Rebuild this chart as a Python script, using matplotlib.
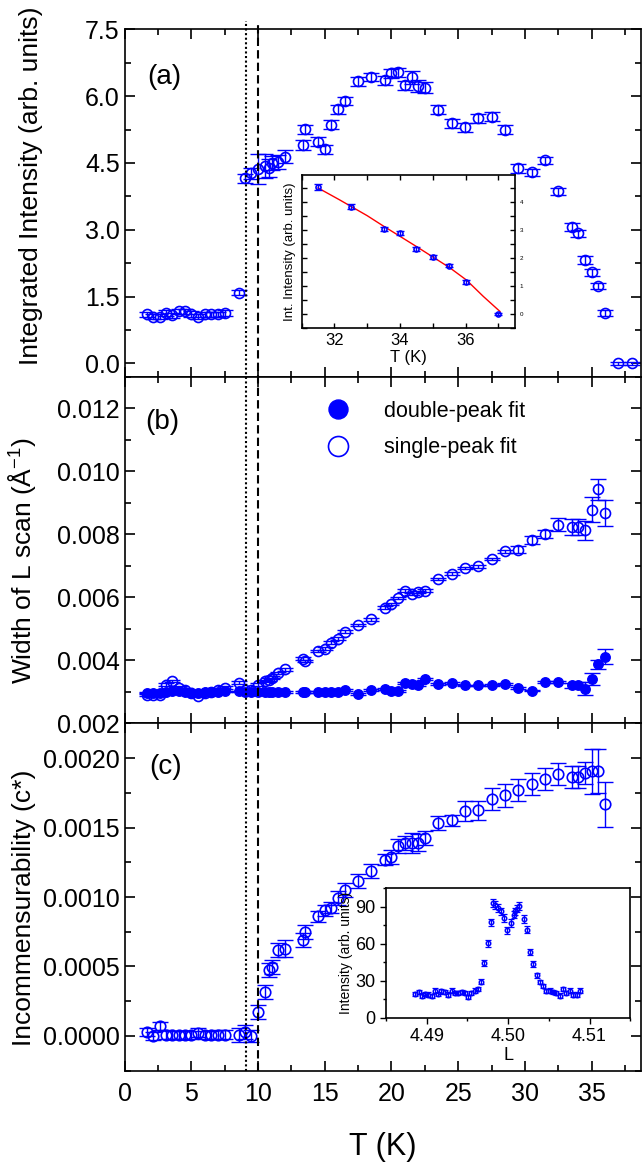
import numpy as np
import matplotlib.pyplot as plt
from matplotlib.ticker import MultipleLocator, FormatStrFormatter
from matplotlib.lines import Line2D
from matplotlib.transforms import blended_transform_factory

plt.rcParams['font.family'] = ['Liberation Sans', 'DejaVu Sans']
plt.rcParams['mathtext.default'] = 'regular'

BLUE = '#0000ff'

# ------------------------------ DATA ------------------------------
temp = [1.65, 2.15, 2.65, 3.1, 3.55, 4.05, 4.5, 5.0, 5.5, 6.0, 6.5, 7.0, 7.55,
        8.55, 9.0, 9.5, 10.0, 10.5, 10.8, 11.05, 11.5, 12.05,
        13.35, 13.5, 14.5, 15.0, 15.5, 16.0, 16.5,
        17.5, 18.5, 19.5, 20.0, 20.5, 21.0, 21.5, 22.0, 22.5,
        23.5, 24.5, 25.5, 26.5, 27.5, 28.5, 29.5, 30.5, 31.5, 32.5,
        33.5, 34.0, 34.5, 35.0, 35.5, 36.0]
temp_a = temp + [37.0, 38.0]

intensity = [1.10, 1.05, 1.05, 1.13, 1.08, 1.17, 1.17, 1.11, 1.05, 1.10, 1.10, 1.10, 1.13,
             1.59, 4.16, 4.27, 4.36, 4.43, 4.38, 4.49, 4.52, 4.64,
             4.90, 5.26, 4.98, 4.81, 5.36, 5.70, 5.88,
             6.33, 6.42, 6.36, 6.51, 6.53, 6.24, 6.42, 6.23, 6.19,
             5.69, 5.39, 5.30, 5.50, 5.54, 5.24, 4.38, 4.29, 4.56, 3.86,
             3.06, 2.92, 2.32, 2.04, 1.74, 1.13, 0.0, 0.0]
intensity_err = [0.06] * 13 + [0.05, 0.10, 0.12, 0.33, 0.27, 0.20, 0.16, 0.15, 0.15,
                               0.12, 0.10, 0.10, 0.10, 0.10, 0.10, 0.09,
                               0.10, 0.09, 0.10, 0.10, 0.09, 0.10, 0.14, 0.14, 0.12,
                               0.10, 0.10, 0.10, 0.10, 0.10, 0.10, 0.10, 0.08, 0.08, 0.08,
                               0.09, 0.08, 0.08, 0.07, 0.07, 0.06, 0.04, 0.04]

width_single = [0.00291, 0.00291, 0.00291, 0.00323, 0.00334, 0.00313, 0.00307, 0.00297, 0.00286,
                0.00297, 0.00299, 0.00305, 0.00313,
                0.00329, 0.00305, 0.00305, 0.00323, 0.00334, 0.00339, 0.00345, 0.00359, 0.00371,
                0.00405, 0.00398, 0.00430, 0.00437, 0.00456, 0.00469, 0.00491,
                0.00512, 0.00530, 0.00567, 0.00578, 0.00597, 0.00621, 0.00610, 0.00617, 0.00621,
                0.00658, 0.00675, 0.00693, 0.00698, 0.00722, 0.00746, 0.00751, 0.00783, 0.00800, 0.00830,
                0.00823, 0.00823, 0.00812, 0.00878, 0.00943, 0.00867]
width_single_err = [0.00004] * 44 + [0.00012, 0.00013, 0.00013, 0.00020,
                                     0.00025, 0.00025, 0.00030, 0.00040, 0.00033, 0.00042]

width_double = [0.00297, 0.00297, 0.00297, 0.00299, 0.00301, 0.00301, 0.00299, 0.00297, 0.00297,
                0.00299, 0.00299, 0.00299, 0.00301,
                0.00301, 0.00299, 0.00299, 0.00299, 0.00299, 0.00299, 0.00299, 0.00299, 0.00299,
                0.00299, 0.00299, 0.00299, 0.00299, 0.00299, 0.00299, 0.00305,
                0.00294, 0.00307, 0.00310, 0.00303, 0.00303, 0.00327, 0.00324, 0.00321, 0.00341,
                0.00326, 0.00329, 0.00320, 0.00320, 0.00321, 0.00326, 0.00313, 0.00304, 0.00332, 0.00332,
                0.00321, 0.00323, 0.00310, 0.00341, 0.00387, 0.00412]
width_double_err = [0.00003] * 48 + [0.00008, 0.00008, 0.00020, 0.00020, 0.00015, 0.00025]

incomm = [0.000029, 0.0, 0.000072, 0.00001, 0.000005, 0.000005, 0.000005, 0.000005, 0.000024,
          0.000005, 0.000005, 0.00001, 0.00001,
          0.000005, 0.000029, 0.0, 0.000173, 0.000317, 0.000472, 0.000496, 0.000616, 0.000628,
          0.000693, 0.000748, 0.000861, 0.000904, 0.000923, 0.000993, 0.001048,
          0.001115, 0.001187, 0.001269, 0.001288, 0.001364, 0.001388, 0.001388, 0.001391, 0.001427,
          0.001532, 0.001552, 0.001619, 0.001624, 0.001703, 0.001731, 0.001772, 0.001815, 0.001851,
          0.001887, 0.001863, 0.001863, 0.001892, 0.001904, 0.001906, 0.001667]
incomm_err = [0.00003] * 13 + [0.00005, 0.00005, 0.00004, 0.00005, 0.00005, 0.00005, 0.00005,
                               0.00005, 0.00006, 0.00005, 0.00005, 0.00004, 0.00004, 0.00004,
                               0.00005, 0.00005, 0.00005, 0.00005, 0.00004, 0.00005, 0.00005,
                               0.00005, 0.00007, 0.00006, 0.00005, 0.00005, 0.00004, 0.00007,
                               0.00007, 0.00008, 0.00008, 0.00008, 0.00008, 0.00008, 0.00008,
                               0.00008, 0.00008, 0.00008, 0.00016, 0.00016, 0.00016]

# inset (a): intensity near Tc with fit
inset_T = [31.5, 32.5, 33.5, 34.0, 34.5, 35.0, 35.5, 36.0, 37.0]
inset_I = [4.53, 3.82, 3.03, 2.89, 2.30, 2.01, 1.71, 1.13, 0.0]
inset_err = [0.10, 0.09, 0.08, 0.08, 0.07, 0.07, 0.06, 0.06, 0.04]
fit_T = [31.5, 32.15, 33.0, 33.48, 34.5, 35.52, 36.03, 36.54, 37.05]
fit_I = [4.49, 4.07, 3.50, 3.14, 2.40, 1.64, 1.20, 0.62, 0.08]

# inset (c): L scan
scan_L = [4.4886, 4.4890, 4.4894, 4.4898, 4.4902, 4.4906, 4.4910, 4.4914, 4.4918, 4.4922,
          4.4926, 4.4931, 4.4935, 4.4938, 4.4943, 4.4947, 4.4951, 4.4955, 4.4959, 4.4963,
          4.4967, 4.4971, 4.4975, 4.4979, 4.4982, 4.4984, 4.4988, 4.4991, 4.4995, 4.4999,
          4.5003, 4.5007, 4.5009, 4.5011, 4.5013, 4.5019, 4.5023, 4.5027, 4.5031, 4.5036,
          4.5039, 4.5043, 4.5047, 4.5051, 4.5055, 4.5059, 4.5064, 4.5067, 4.5071, 4.5076,
          4.5080, 4.5084, 4.5088]
scan_I = [19.4, 20.7, 18.0, 19.4, 18.8, 17.5, 22.1, 19.4, 21.3, 20.7,
          18.8, 22.1, 19.9, 19.9, 20.7, 20.2, 16.9, 20.2, 22.1, 23.5,
          29.2, 44.2, 60.5, 77.4, 93.3, 91.4, 89.2, 86.4, 81.0, 70.9,
          76.9, 83.7, 86.4, 88.4, 90.5, 80.2, 71.4, 53.2, 43.4, 34.4,
          28.9, 25.6, 21.5, 22.1, 20.7, 20.2, 18.0, 23.5, 20.2, 22.1,
          18.8, 18.8, 22.1]
scan_err = [1.8] * 20 + [2.2, 2.5, 2.8, 3.0, 3.2, 3.2, 3.2, 3.0, 3.0, 2.9,
                         3.0, 3.0, 3.0, 3.0, 3.2, 3.0, 2.9, 2.5, 2.3, 2.1] + [1.8] * 13

t_dotted = 9.08
t_dashed = 10.02

# ------------------------------ FIGURE ------------------------------
fig = plt.figure(figsize=(6.42, 11.67), dpi=100)
left, width = 0.1942, 0.8042
ax_a = fig.add_axes([left, 0.6772, width, 0.2977])
ax_b = fig.add_axes([left, 0.3802, width, 0.2970])
ax_c = fig.add_axes([left, 0.0825, width, 0.2977])

ms = 7.2
ekw = dict(fmt='none', ecolor=BLUE, elinewidth=1.0, capsize=6, capthick=1.0)


def style_main(ax):
    ax.set_xlim(0, 38.7)
    ax.xaxis.set_major_locator(MultipleLocator(5))
    ax.xaxis.set_minor_locator(MultipleLocator(2.5))
    ax.tick_params(which='both', direction='in', top=True, right=True, width=1.2,
                   labelsize=18)
    ax.tick_params(which='major', length=7)
    ax.tick_params(which='minor', length=4)
    for s in ax.spines.values():
        s.set_linewidth(1.2)


# (a)
ax_a.errorbar(temp_a, intensity, yerr=intensity_err, **ekw)
ax_a.plot(temp_a, intensity, 'o', ms=ms, mfc='none', mec=BLUE, mew=1.2)
style_main(ax_a)
ax_a.set_ylim(-0.3, 7.5)
ax_a.yaxis.set_major_locator(MultipleLocator(1.5))
ax_a.yaxis.set_minor_locator(MultipleLocator(0.75))
ax_a.yaxis.set_major_formatter(FormatStrFormatter('%.1f'))
ax_a.tick_params(labelbottom=False)
ax_a.set_ylabel('Integrated Intensity (arb. units)', fontsize=19)
ax_a.yaxis.set_label_coords(-0.159, 0.55)
ax_a.text(0.076, 0.863, '(a)', transform=ax_a.transAxes, fontsize=20, ha='center', va='center')

# (b)
ax_b.errorbar(temp, width_double, yerr=width_double_err, **ekw)
ax_b.plot(temp, width_double, 'o', ms=ms * 0.95, mfc=BLUE, mec=BLUE, label='double-peak fit')
ax_b.errorbar(temp, width_single, yerr=width_single_err, **ekw)
ax_b.plot(temp, width_single, 'o', ms=ms, mfc='none', mec=BLUE, mew=1.2, label='single-peak fit')
style_main(ax_b)
ax_b.set_ylim(0.002, 0.013)
ax_b.yaxis.set_major_locator(MultipleLocator(0.002))
ax_b.yaxis.set_minor_locator(MultipleLocator(0.001))
ax_b.yaxis.set_major_formatter(FormatStrFormatter('%.3f'))
ax_b.tick_params(labelbottom=False)
ax_b.set_ylabel('Width of L scan (Å$^{-1}$)', fontsize=19)
ax_b.yaxis.set_label_coords(-0.168, 0.47)
ax_b.text(0.072, 0.870, '(b)', transform=ax_b.transAxes, fontsize=20, ha='center', va='center')
ax_b.legend(loc='upper left', bbox_to_anchor=(0.393, 0.93), frameon=False, fontsize=15.5,
            markerscale=2.0, handlelength=1.0, handletextpad=1.6, labelspacing=0.7,
            borderpad=0, borderaxespad=0)

# (c)
ax_c.errorbar(temp, incomm, yerr=incomm_err, **ekw)
ax_c.plot(temp, incomm, 'o', ms=ms * 1.05, mfc='none', mec=BLUE, mew=1.2)
style_main(ax_c)
ax_c.set_ylim(-0.00025, 0.00225)
ax_c.yaxis.set_major_locator(MultipleLocator(0.0005))
ax_c.yaxis.set_minor_locator(MultipleLocator(0.00025))
ax_c.yaxis.set_major_formatter(FormatStrFormatter('%.4f'))
ax_c.tick_params(axis='x', pad=8)
ax_c.set_ylabel('Incommensurability (c*)', fontsize=19)
ax_c.yaxis.set_label_coords(-0.172, 0.47)
ax_c.set_xlabel('T (K)', fontsize=22)
ax_c.xaxis.set_label_coords(0.5, -0.2196)
ax_c.xaxis.label.set_va('center')
ax_c.text(0.079, 0.873, '(c)', transform=ax_c.transAxes, fontsize=20, ha='center', va='center')

# transition lines through all panels
trans = blended_transform_factory(ax_c.transData, fig.transFigure)
for t, ls in [(t_dotted, (0, (1, 1.2))), (t_dashed, (0, (4, 2)))]:
    fig.add_artist(Line2D([t, t], [0.0825, 0.9823], transform=trans, color='black',
                          lw=1.5, ls=ls, clip_on=False))

# inset (a)
ins_a = fig.add_axes([0.4698, 0.7192, 0.3319, 0.1308])
ins_a.plot(fit_T, fit_I, '-', color='red', lw=1.0)
ins_a.errorbar(inset_T, inset_I, yerr=inset_err, fmt='none', ecolor=BLUE, elinewidth=1.0,
               capsize=3, capthick=1.0)
ins_a.plot(inset_T, inset_I, 'o', ms=3.6, mfc='none', mec=BLUE, mew=1.2)
ins_a.set_xlim(31, 37.5)
ins_a.set_ylim(-0.5, 4.95)
ins_a.xaxis.set_major_locator(MultipleLocator(2))
ins_a.xaxis.set_minor_locator(MultipleLocator(1))
ins_a.yaxis.set_major_locator(MultipleLocator(1))
ins_a.yaxis.set_minor_locator(MultipleLocator(0.5))
ins_a.tick_params(which='both', direction='in', top=True, right=True, left=True,
                  labelleft=False, labelright=True, width=1.0)
ins_a.tick_params(which='major', length=3.5)
ins_a.tick_params(which='minor', length=3.5)
ins_a.tick_params(axis='x', labelsize=12)
ins_a.tick_params(axis='y', labelsize=4.5)
ins_a.set_xlabel('T (K)', fontsize=12, labelpad=2)
ins_a.set_ylabel('Int. Intensity (arb. units)', fontsize=9.5, labelpad=4)
for s in ins_a.spines.values():
    s.set_linewidth(1.2)

# inset (c)
ins_c = fig.add_axes([0.6012, 0.1279, 0.3805, 0.1109])
ins_c.errorbar(scan_L, scan_I, yerr=scan_err, fmt='none', ecolor=BLUE, elinewidth=0.9,
               capsize=2, capthick=0.9)
ins_c.plot(scan_L, scan_I, 'o', ms=3.2, mfc='none', mec=BLUE, mew=1.1)
ins_c.set_xlim(4.485, 4.515)
ins_c.set_ylim(0, 105)
ins_c.xaxis.set_major_locator(MultipleLocator(0.01))
ins_c.xaxis.set_minor_locator(MultipleLocator(0.005))
ins_c.xaxis.set_major_formatter(FormatStrFormatter('%.2f'))
ins_c.yaxis.set_major_locator(MultipleLocator(30))
ins_c.yaxis.set_minor_locator(MultipleLocator(15))
ins_c.tick_params(which='both', direction='out', labelsize=13, width=1.0)
ins_c.tick_params(which='major', length=4)
ins_c.tick_params(which='minor', length=2.5)
ins_c.set_xlabel('L', fontsize=13, labelpad=1)
ins_c.set_ylabel('Intensity (arb. units)', fontsize=10, labelpad=2)
for s in ins_c.spines.values():
    s.set_linewidth(1.2)

fig.savefig('out.png', dpi=100)
